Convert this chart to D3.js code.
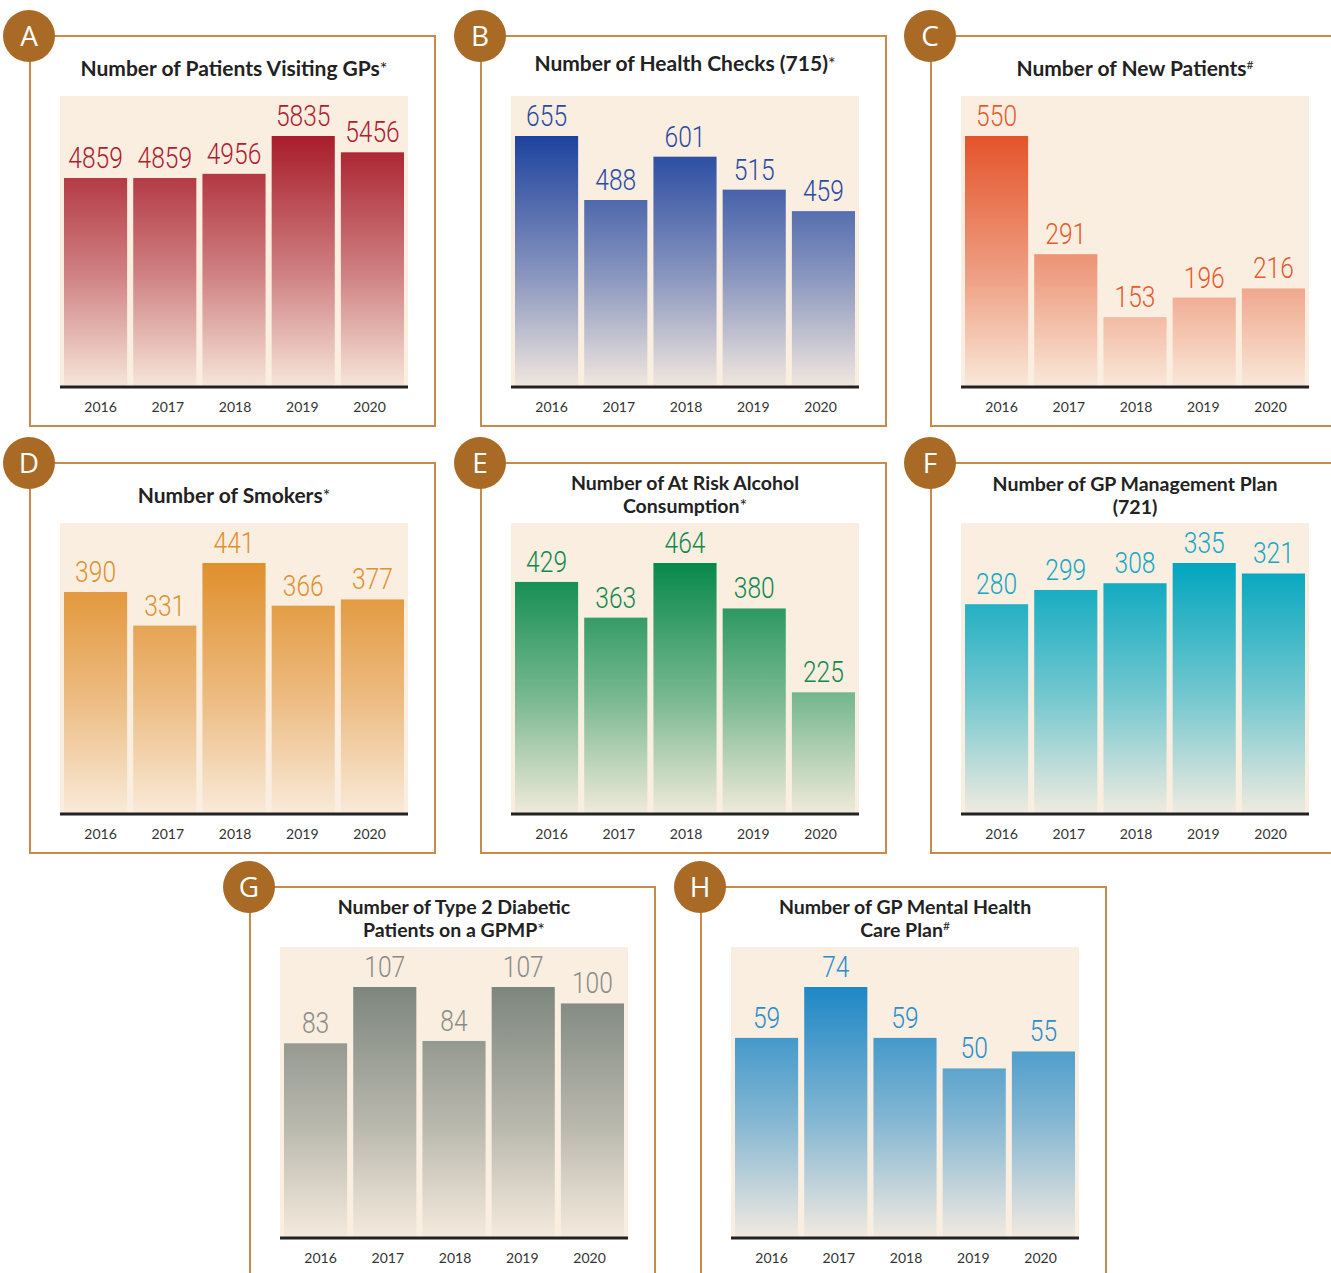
<!DOCTYPE html>
<html>
<head>
<meta charset="utf-8">
<script src="https://cdn.jsdelivr.net/npm/d3@7"></script>
<style>
  html, body { margin: 0; padding: 0; background: #ffffff; }
  svg { display: block; }
</style>
</head>
<body>
<svg id="chart" width="1331" height="1273"></svg>
<script>
// Reporting years shared by every panel
const years = ['2016', '2017', '2018', '2019', '2020'];

// Values per indicator, one entry per year
const patientsVisitingGPs = [4859, 4859, 4956, 5835, 5456];
const healthChecks = [655, 488, 601, 515, 459];
const newPatients = [550, 291, 153, 196, 216];
const smokers = [390, 331, 441, 366, 377];
const atRiskAlcohol = [429, 363, 464, 380, 225];
const gpManagementPlans = [280, 299, 308, 335, 321];
const diabeticOnGPMP = [83, 107, 84, 107, 100];
const mentalHealthPlans = [59, 74, 59, 50, 55];

// Panel letters and titles (last item of each title line is its footnote mark)
const panelLetters = ['A', 'B', 'C', 'D', 'E', 'F', 'G', 'H'];
const panelTitles = [
  [['Number of Patients Visiting GPs', '*']],
  [['Number of Health Checks (715)', '*']],
  [['Number of New Patients', '#']],
  [['Number of Smokers', '*']],
  [['Number of At Risk Alcohol', ''], ['Consumption', '*']],
  [['Number of GP Management Plan', ''], ['(721)', '']],
  [['Number of Type 2 Diabetic', ''], ['Patients on a GPMP', '*']],
  [['Number of GP Mental Health', ''], ['Care Plan', '#']]
];
const panelValues = [patientsVisitingGPs, healthChecks, newPatients, smokers,
  atRiskAlcohol, gpManagementPlans, diabeticOnGPMP, mentalHealthPlans];

// Styling and placement for each panel
const barColors = ['#a81c2b', '#1d429e', '#e4542a', '#e08f2c', '#07894a', '#00a6bf', '#7d867e', '#1e87c6'];
const labelColors = ['#b0202e', '#2b4ba2', '#e85a2c', '#e0902e', '#11894a', '#17a7c0', '#8a8b86', '#2a8dcc'];
const frameOrigins = [
  [30, 36], [481, 36], [931, 36],
  [30, 463], [481, 463], [931, 463],
  [250, 887], [701, 887]
];
const titleOffsets = [40, 35, 40, 40, 27, 28, 27, 27];

const svg = d3.select('#chart');
const defs = svg.append('defs');

const FRAME_W = 405, FRAME_H = 390;
const PLOT_X0 = 30, PLOT_X1 = 378;      // plot area, relative to frame
const PLOT_TOP = 60, AXIS_Y = 351;      // plot area top and baseline
const BAR_TOP = 100;                    // where the largest value reaches

const frameColor = '#c98b4c';
const badgeColor = '#a96a26';
const plotBg = '#faeee1';

panelValues.forEach((values, i) => {
  const [fx, fy] = frameOrigins[i];
  const g = svg.append('g').attr('transform', `translate(${fx},${fy})`);

  // Frame
  g.append('rect')
    .attr('x', 0).attr('y', 0)
    .attr('width', FRAME_W).attr('height', FRAME_H)
    .attr('fill', 'none')
    .attr('stroke', frameColor)
    .attr('stroke-width', 2);

  // Plot background
  g.append('rect')
    .attr('x', PLOT_X0).attr('y', PLOT_TOP)
    .attr('width', PLOT_X1 - PLOT_X0).attr('height', AXIS_Y - PLOT_TOP)
    .attr('fill', plotBg);

  const x = d3.scaleBand()
    .domain(years)
    .range([PLOT_X0 + 4, PLOT_X1 - 4])
    .paddingInner(0.088)
    .paddingOuter(0);

  // Year labels sit on a slightly tighter spacing than the bars
  const xLabels = d3.scalePoint()
    .domain(years)
    .range([PLOT_X0 + 40, PLOT_X0 + 309]);

  const y = d3.scaleLinear()
    .domain([0, d3.max(values)])
    .range([AXIS_Y, BAR_TOP]);

  // Vertical fade shared across the panel's bars (in the panel's local space)
  const gradId = `fade-${i}`;
  const grad = defs.append('linearGradient')
    .attr('id', gradId)
    .attr('gradientUnits', 'userSpaceOnUse')
    .attr('x1', 0).attr('x2', 0)
    .attr('y1', y(d3.max(values)))
    .attr('y2', y(0));
  grad.append('stop').attr('offset', '0%').attr('stop-color', barColors[i]).attr('stop-opacity', 1);
  grad.append('stop').attr('offset', '55%').attr('stop-color', barColors[i]).attr('stop-opacity', 0.52);
  grad.append('stop').attr('offset', '100%').attr('stop-color', barColors[i]).attr('stop-opacity', 0.04);

  g.selectAll('rect.bar')
    .data(values)
    .join('rect')
    .attr('class', 'bar')
    .attr('x', (d, j) => x(years[j]))
    .attr('y', d => y(d))
    .attr('width', x.bandwidth())
    .attr('height', d => y(0) - y(d))
    .attr('fill', `url(#${gradId})`);

  // Value labels above each bar, in a narrowed light face
  g.selectAll('text.value')
    .data(values)
    .join('text')
    .attr('class', 'value')
    .attr('transform', (d, j) => `translate(${x(years[j]) + x.bandwidth() / 2},${y(d) - 10}) scale(0.82,1)`)
    .attr('text-anchor', 'middle')
    .attr('font-family', 'Roboto, "Open Sans", sans-serif')
    .attr('font-weight', 300)
    .attr('font-size', 30)
    .attr('fill', labelColors[i])
    .text(d => d);

  // Baseline axis with year labels
  const axis = d3.axisBottom(xLabels).tickSize(0).tickPadding(15);
  const ax = g.append('g').attr('transform', `translate(0,${AXIS_Y})`).call(axis);
  ax.select('.domain').remove();
  ax.selectAll('text')
    .attr('font-family', 'Lato, "Open Sans", sans-serif')
    .attr('font-size', 14)
    .attr('fill', '#333');
  g.append('line')
    .attr('x1', PLOT_X0).attr('x2', PLOT_X1)
    .attr('y1', AXIS_Y).attr('y2', AXIS_Y)
    .attr('stroke', '#222')
    .attr('stroke-width', 3);

  // Title (two-line titles are set a touch smaller so the lines clear each other)
  const cx = (PLOT_X0 + PLOT_X1) / 2;
  const twoLines = panelTitles[i].length > 1;
  const titleSize = twoLines ? 19.5 : 21;
  panelTitles[i].forEach((line, k) => {
    const t = g.append('text')
      .attr('x', cx)
      .attr('y', titleOffsets[i] + k * 23)
      .attr('text-anchor', 'middle')
      .attr('font-family', 'Lato, "Open Sans", sans-serif')
      .attr('font-weight', 700)
      .attr('font-size', titleSize)
      .attr('fill', '#222');
    t.append('tspan').text(line[0]);
    if (line[1]) {
      t.append('tspan')
        .attr('font-weight', 400)
        .attr('font-size', line[1] === '#' ? 12 : 18)
        .attr('dy', line[1] === '#' ? -7 : -1)
        .text(line[1]);
    }
  });

  // Letter badge
  g.append('circle')
    .attr('cx', -1).attr('cy', 0).attr('r', 26)
    .attr('fill', badgeColor);
  g.append('text')
    .attr('x', -1).attr('y', 10)
    .attr('text-anchor', 'middle')
    .attr('font-family', '"Open Sans", Lato, sans-serif')
    .attr('font-size', 28)
    .attr('fill', '#ffffff')
    .text(panelLetters[i]);
});
</script>
</body>
</html>
